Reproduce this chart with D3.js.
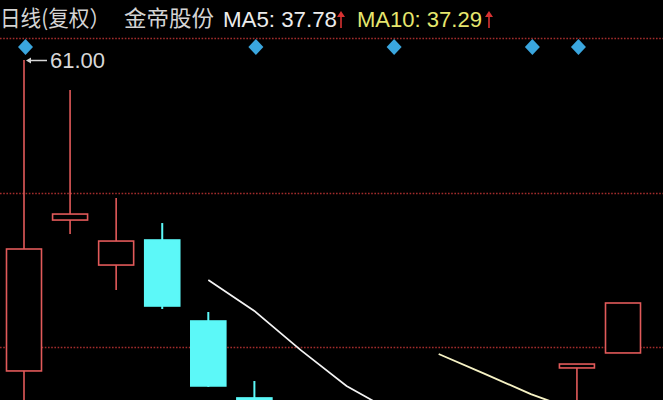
<!DOCTYPE html>
<html>
<head>
<meta charset="utf-8">
<script src="https://cdn.jsdelivr.net/npm/d3@7"></script>
<style>
html,body{margin:0;padding:0;background:#000;overflow:hidden;}
svg{display:block;}
</style>
</head>
<body>
<svg id="chart" width="663" height="400"></svg>
<script>
// ---------- data ----------
const days   = d3.range(14).map(i => "D" + (i + 1));
const opens  = [40.27, 50.33, 47.33, 49.00, 43.60, 38.47, 37.20, 36.50, 35.50, 34.80, 33.60, 33.20, 40.47, 41.47];
const closes = [48.40, 50.73, 48.93, 44.60, 39.27, 37.00, 36.40, 35.60, 34.60, 33.30, 33.40, 37.03, 40.73, 44.80];
const highs  = [61.00, 59.00, 51.80, 50.13, 44.20, 39.60, 38.00, 37.40, 36.20, 35.40, 34.60, 37.80, 40.73, 44.80];
const lows   = [36.00, 49.40, 45.67, 44.40, 39.20, 36.50, 35.80, 35.00, 34.00, 33.00, 32.80, 33.00, 37.50, 41.47];
const ma5    = [null, null, null, null, 46.33, 44.27, 41.67, 39.27, 37.55, 36.90, 36.50, 36.60, 37.10, 37.78];
const ma10   = [null, null, null, null, null, null, null, null, null, 41.40, 40.07, 38.73, 37.60, 37.29];
const markerDays = ["D1", "D6", "D9", "D12", "D13"];
const gridPrices = [62.47, 52.13, 41.87];
const titleParts = ["日线(复权）", "金帝股份", "MA5: 37.78", "MA10: 37.29"];
const highLabel = "61.00";

// ---------- scales ----------
const svg = d3.select("#chart");
const W = 663, H = 400;
const x = d3.scalePoint().domain(days).range([24, 623]);
const y = d3.scaleLinear().domain([38, 61]).range([405, 60]);

const RED = "#e25a5a", CYAN = "#5cf8f8";

svg.append("rect").attr("width", W).attr("height", H).attr("fill", "#000");

// gridlines
svg.append("g").selectAll("line").data(gridPrices).join("line")
  .attr("x1", 0).attr("x2", W)
  .attr("y1", d => Math.round(y(d)) + 0.5).attr("y2", d => Math.round(y(d)) + 0.5)
  .attr("stroke", "#a22c2c").attr("stroke-width", 1.6)
  .attr("stroke-dasharray", "1.6,1.6");

// candles
const candles = days.map((d, i) => ({d, o: opens[i], c: closes[i], h: highs[i], l: lows[i]}));
const bodyW = 35;
const cg = svg.append("g");
candles.forEach(k => {
  const up = k.c >= k.o;
  const col = up ? RED : CYAN;
  const cx = x(k.d);
  cg.append("line")
    .attr("x1", cx).attr("x2", cx)
    .attr("y1", y(k.h)).attr("y2", y(k.l))
    .attr("stroke", col).attr("stroke-width", up ? 1.6 : 2);
  const top = y(Math.max(k.o, k.c)), bot = y(Math.min(k.o, k.c));
  cg.append("rect")
    .attr("x", cx - bodyW / 2).attr("width", bodyW)
    .attr("y", top).attr("height", Math.max(bot - top, 1))
    .attr("fill", up ? "#000" : CYAN)
    .attr("stroke", col).attr("stroke-width", 1.6);
});

// moving averages
const lineGen = arr => d3.line()
  .defined(d => d.v != null)
  .x(d => x(d.d)).y(d => y(d.v))(days.map((d, i) => ({d, v: arr[i]})));
svg.append("path").attr("d", lineGen(ma5)).attr("fill", "none")
  .attr("stroke", "#f4f4f4").attr("stroke-width", 1.7);
svg.append("path").attr("d", lineGen(ma10)).attr("fill", "none")
  .attr("stroke", "#f6f2c4").attr("stroke-width", 1.9);

// event markers (diamonds)
svg.append("g").selectAll("path").data(markerDays).join("path")
  .attr("transform", d => `translate(${x(d) + 1.5},47)`)
  .attr("d", "M0,-8L7.5,0L0,8L-7.5,0Z")
  .attr("fill", "#3aa6de");

// high label
const hi = d3.maxIndex(highs);
const hx = x(days[hi]), hy = y(highs[hi]);
svg.append("line").attr("x1", hx + 6).attr("x2", hx + 23)
  .attr("y1", hy + 0.5).attr("y2", hy + 0.5)
  .attr("stroke", "#d8d8d8").attr("stroke-width", 1.5);
svg.append("path")
  .attr("d", `M${hx + 2},${hy + 0.5}L${hx + 7},${hy - 2.5}L${hx + 7},${hy + 3.5}Z`)
  .attr("fill", "#d8d8d8");
svg.append("text").attr("x", hx + 26).attr("y", hy + 7.5)
  .attr("fill", "#d8d8d8").attr("font-family", "'Liberation Sans', Arial, sans-serif")
  .attr("font-size", 22).text(highLabel);

// title
const tg = svg.append("g");
tg.append("text").attr("x", 0).attr("y", 26)
  .attr("font-family", "'Noto Sans CJK SC', sans-serif").attr("font-size", 22)
  .attr("fill", "#d4d4d4").attr("textLength", 110).attr("lengthAdjust", "spacingAndGlyphs")
  .text(titleParts[0]);
tg.append("text").attr("x", 124).attr("y", 26)
  .attr("font-family", "'Noto Sans CJK SC', sans-serif").attr("font-size", 22)
  .attr("fill", "#d4d4d4").attr("textLength", 90).attr("lengthAdjust", "spacingAndGlyphs")
  .text(titleParts[1]);
tg.append("text").attr("x", 223).attr("y", 27)
  .attr("font-family", "'Liberation Sans', Arial, sans-serif").attr("font-size", 22)
  .attr("fill", "#ececec").attr("textLength", 114).attr("lengthAdjust", "spacingAndGlyphs")
  .text(titleParts[2]);
tg.append("text").attr("x", 357).attr("y", 27)
  .attr("font-family", "'Liberation Sans', Arial, sans-serif").attr("font-size", 22)
  .attr("fill", "#e6e66e").attr("textLength", 125).attr("lengthAdjust", "spacingAndGlyphs")
  .text(titleParts[3]);
// up arrows
[341, 489].forEach(ax => {
  tg.append("line").attr("x1", ax).attr("x2", ax).attr("y1", 15).attr("y2", 28)
    .attr("stroke", "#d83232").attr("stroke-width", 1.6);
  tg.append("path").attr("d", `M${ax},11L${ax + 4},17L${ax - 4},17Z`).attr("fill", "#d83232");
});
</script>
</body>
</html>
